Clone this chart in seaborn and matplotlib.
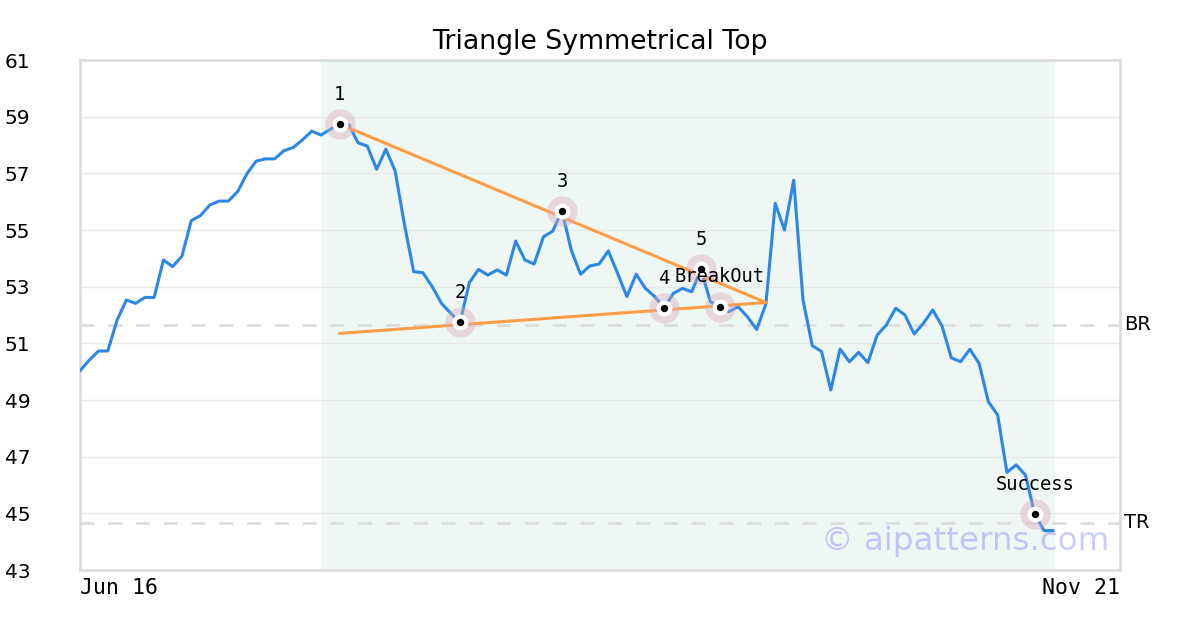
import numpy as np
import pandas as pd
import matplotlib
matplotlib.use("Agg")
import matplotlib.pyplot as plt
import matplotlib.transforms as mtransforms
import seaborn as sns

# ---- data ----
price = [50.03, 50.41, 50.73, 50.73, 51.82, 52.53, 52.41, 52.62, 52.62, 53.94,
         53.71, 54.08, 55.33, 55.51, 55.88, 56.02, 56.02, 56.35, 56.98, 57.43,
         57.51, 57.51, 57.80, 57.91, 58.18, 58.49, 58.35, 58.55, 58.74, 58.72,
         58.08, 57.96, 57.14, 57.85, 57.08, 55.20, 53.53, 53.49, 53.00, 52.41,
         52.06, 51.74, 53.14, 53.61, 53.41, 53.59, 53.41, 54.61, 53.94, 53.80,
         54.76, 54.96, 55.67, 54.29, 53.44, 53.73, 53.80, 54.26, 53.47, 52.65,
         53.44, 52.94, 52.65, 52.24, 52.76, 52.94, 52.82, 53.62, 52.47, 52.29,
         52.12, 52.29, 51.94, 51.49, 52.39, 55.94, 55.00, 56.76, 52.53, 50.92,
         50.71, 49.35, 50.80, 50.35, 50.68, 50.32, 51.29, 51.65, 52.24, 52.00,
         51.33, 51.71, 52.18, 51.61, 50.49, 50.35, 50.79, 50.29, 48.94, 48.47,
         46.45, 46.71, 46.35, 44.98, 44.39, 44.39]

pivot_idx = [28, 41, 52, 63, 67, 69, 103]
pivot_labels = ["1", "2", "3", "4", "5", "BreakOut", "Success"]

upper_x = [28, 74]
upper_y = [58.74, 52.44]
lower_x = [28, 74]
lower_y = [51.35, 52.44]

br_level = 51.65
tr_level = 44.66

shade_span = [26, 105.2]
x_end = 112.2
x_tick_labels = ["Jun 16", "Nov 21"]
y_ticks = [43, 45, 47, 49, 51, 53, 55, 57, 59, 61]

df = pd.DataFrame({"day": np.arange(len(price)), "price": price})
piv = df.iloc[pivot_idx].copy()
piv["label"] = pivot_labels

# ---- style ----
sns.set_theme(style="white")
plt.rcParams["font.family"] = ["DejaVu Sans"]
plt.rcParams["text.color"] = "black"
plt.rcParams["xtick.color"] = "black"
plt.rcParams["ytick.color"] = "black"

fig = plt.figure(figsize=(12, 6.3), dpi=100)
ax = fig.add_axes([80 / 1200, 60 / 630, 1040 / 1200, 510 / 630])

ax.axvspan(shade_span[0], shade_span[1], color="#eff7f4", zorder=0, lw=0)
for y in y_ticks:
    ax.axhline(y, color="#e8e8e8", lw=1, zorder=1)

ax.axhline(br_level, color="#dddddd", lw=2, ls=(0, (5, 5)), zorder=1)
ax.axhline(tr_level, color="#dddddd", lw=2, ls=(0, (5, 5)), zorder=1)

sns.lineplot(data=df, x="day", y="price", ax=ax, color="#2d87e6", lw=2.2, zorder=3)
sns.lineplot(x=upper_x, y=upper_y, ax=ax, color="#ff9c45", lw=2.2, zorder=4)
sns.lineplot(x=lower_x, y=lower_y, ax=ax, color="#ff9c45", lw=2.2, zorder=4)

# pivot markers: halo, white ring, black dot
sns.scatterplot(data=piv, x="day", y="price", ax=ax, s=480, color="#d7a9b8",
                alpha=0.4, linewidth=0, zorder=5)
sns.scatterplot(data=piv, x="day", y="price", ax=ax, s=130, color="white",
                linewidth=0, zorder=6)
sns.scatterplot(data=piv, x="day", y="price", ax=ax, s=28, color="black",
                linewidth=0, zorder=7)

for _, r in piv.iterrows():
    ax.annotate(r["label"], (r["day"], r["price"]), xytext=(0, 21.5),
                textcoords="offset points", ha="center", va="center",
                fontsize=13.5, family="DejaVu Sans Mono", color="black", zorder=8)

trans = mtransforms.blended_transform_factory(ax.transAxes, ax.transData)
ax.text(1.004, br_level, "BR", transform=trans, ha="left", va="center", fontsize=14)
ax.text(1.004, tr_level, "TR", transform=trans, ha="left", va="center", fontsize=14)

ax.text(0.99, 0.055, "© aipatterns.com", transform=ax.transAxes, ha="right",
        va="center", fontsize=23.4, color=(0, 0, 1, 0.2), zorder=9)

ax.set_xlim(0, x_end)
ax.set_ylim(43, 61)
ax.set_yticks(y_ticks)
ax.set_xticks([0, x_end])
ax.set_xticklabels(x_tick_labels, family="DejaVu Sans Mono", fontsize=15.5)
xl = ax.get_xticklabels()
xl[0].set_ha("left")
xl[1].set_ha("right")
ax.tick_params(axis="x", length=0, pad=6)
for lab in ax.get_yticklabels():
    lab.set_ha("left")
ax.tick_params(axis="y", length=0, pad=54, labelsize=14.5)
ax.set_xlabel("")
ax.set_ylabel("")
for sp in ax.spines.values():
    sp.set_color("#dddddd")
    sp.set_linewidth(2)

ax.set_title("Triangle Symmetrical Top", fontsize=19.3, pad=8, color="black")

fig.savefig("out.png", dpi=100)
